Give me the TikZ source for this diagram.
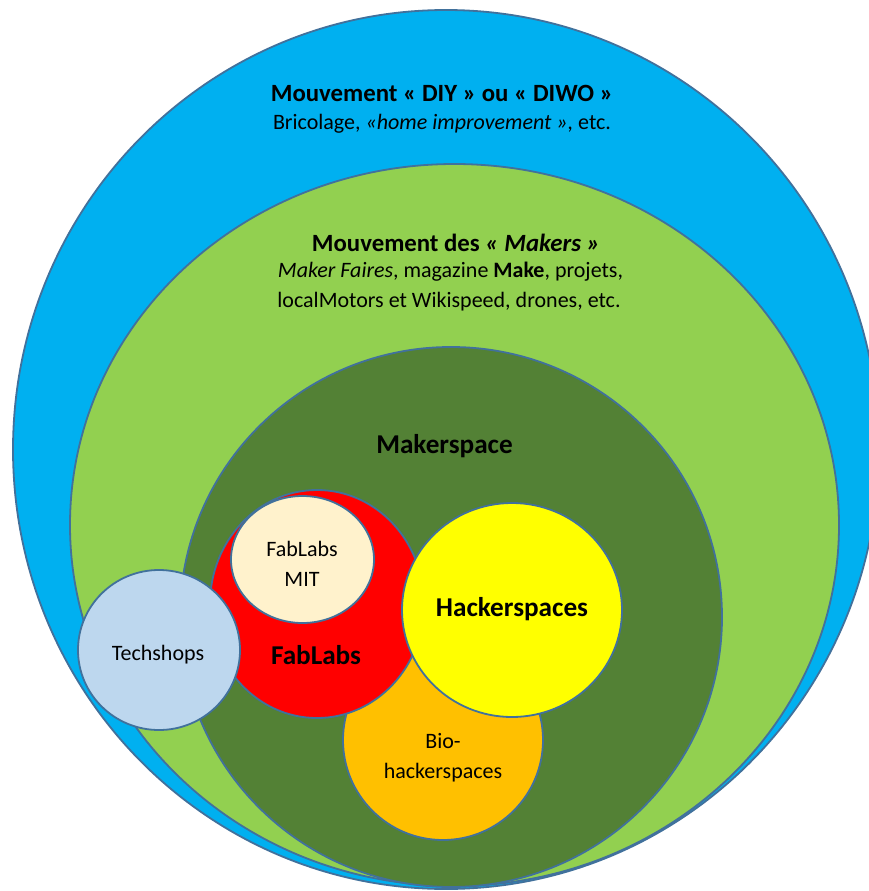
\documentclass[tikz,border=0pt]{standalone}
\usepackage{fontspec}
\setmainfont{Carlito}
\usetikzlibrary{shapes.geometric}
\definecolor{cBlue}{HTML}{00B0F0}
\definecolor{cGreen}{HTML}{92D050}
\definecolor{cDark}{HTML}{538135}
\definecolor{cRed}{HTML}{FF0000}
\definecolor{cCream}{HTML}{FFF2CC}
\definecolor{cYellow}{HTML}{FFFF00}
\definecolor{cOrange}{HTML}{FFC000}
\definecolor{cLight}{HTML}{BDD7EE}
\definecolor{cLine}{HTML}{41719C}
\tikzset{
  blob/.style={ellipse, draw=cLine, line width=1.8pt, inner sep=0pt},
  lbl/.style={inner sep=0pt, align=center, text=black},
  txt/.style={lbl, font=\fontsize{22}{30}\selectfont},
  head/.style={lbl, font=\fontsize{24.8}{30}\selectfont\bfseries},
  big/.style={lbl, font=\fontsize{27.2}{32}\selectfont\bfseries},
}
\begin{document}
\begin{tikzpicture}[x=1pt,y=-1pt]
\clip (0,0) rectangle (869,891);
\fill[white] (0,0) rectangle (869,891);
% shapes
\node[blob, fill=cBlue, minimum width=866pt, minimum height=879pt] (diy) at (446,449.5) {};
\node[blob, fill=cGreen, minimum width=769pt, minimum height=722pt] (makers) at (454.5,525) {};
\node[blob, fill=cDark, minimum width=542pt, minimum height=540pt] (space) at (451,617) {};
\node[blob, fill=cOrange, minimum width=200pt, minimum height=200pt] (bio) at (443,740) {};
\node[blob, fill=cRed, minimum width=214pt, minimum height=228pt] (fab) at (317,604) {};
\node[blob, fill=cCream, minimum width=143pt, minimum height=127pt] (mit) at (302.5,559.5) {};
\node[blob, fill=cYellow, minimum width=220pt, minimum height=214pt] (hack) at (512,610) {};
\node[blob, fill=cLight, minimum width=162pt, minimum height=160pt] (tech) at (159,650) {};
% texts
\node[head] (t1) at (442,93) {Mouvement « DIY » ou « DIWO »};
\node[txt] (t2) at (442,124) {Bricolage, \textit{«home improvement »,} etc.};
\node[head] (m1) at (456,243) {Mouvement des \textit{« Makers »}};
\node[txt] (m2) at (450.5,272) {\textit{Maker Faires}, magazine \textbf{Make}, projets,};
\node[txt] (m3) at (449,302) {localMotors et Wikispeed, drones, etc.};
\node[big] (ms) at (444.5,446) {Makerspace};
\node[big] (hk) at (512,609) {Hackerspaces};
\node[big] (fl) at (316,655) {FabLabs};
\node[txt] (mt) at (302,563.5) {FabLabs\\MIT};
\node[txt] (ts) at (158,655) {Techshops};
\node[txt] (bh) at (443,757.5) {Bio-\\hackerspaces};
\end{tikzpicture}
\end{document}
